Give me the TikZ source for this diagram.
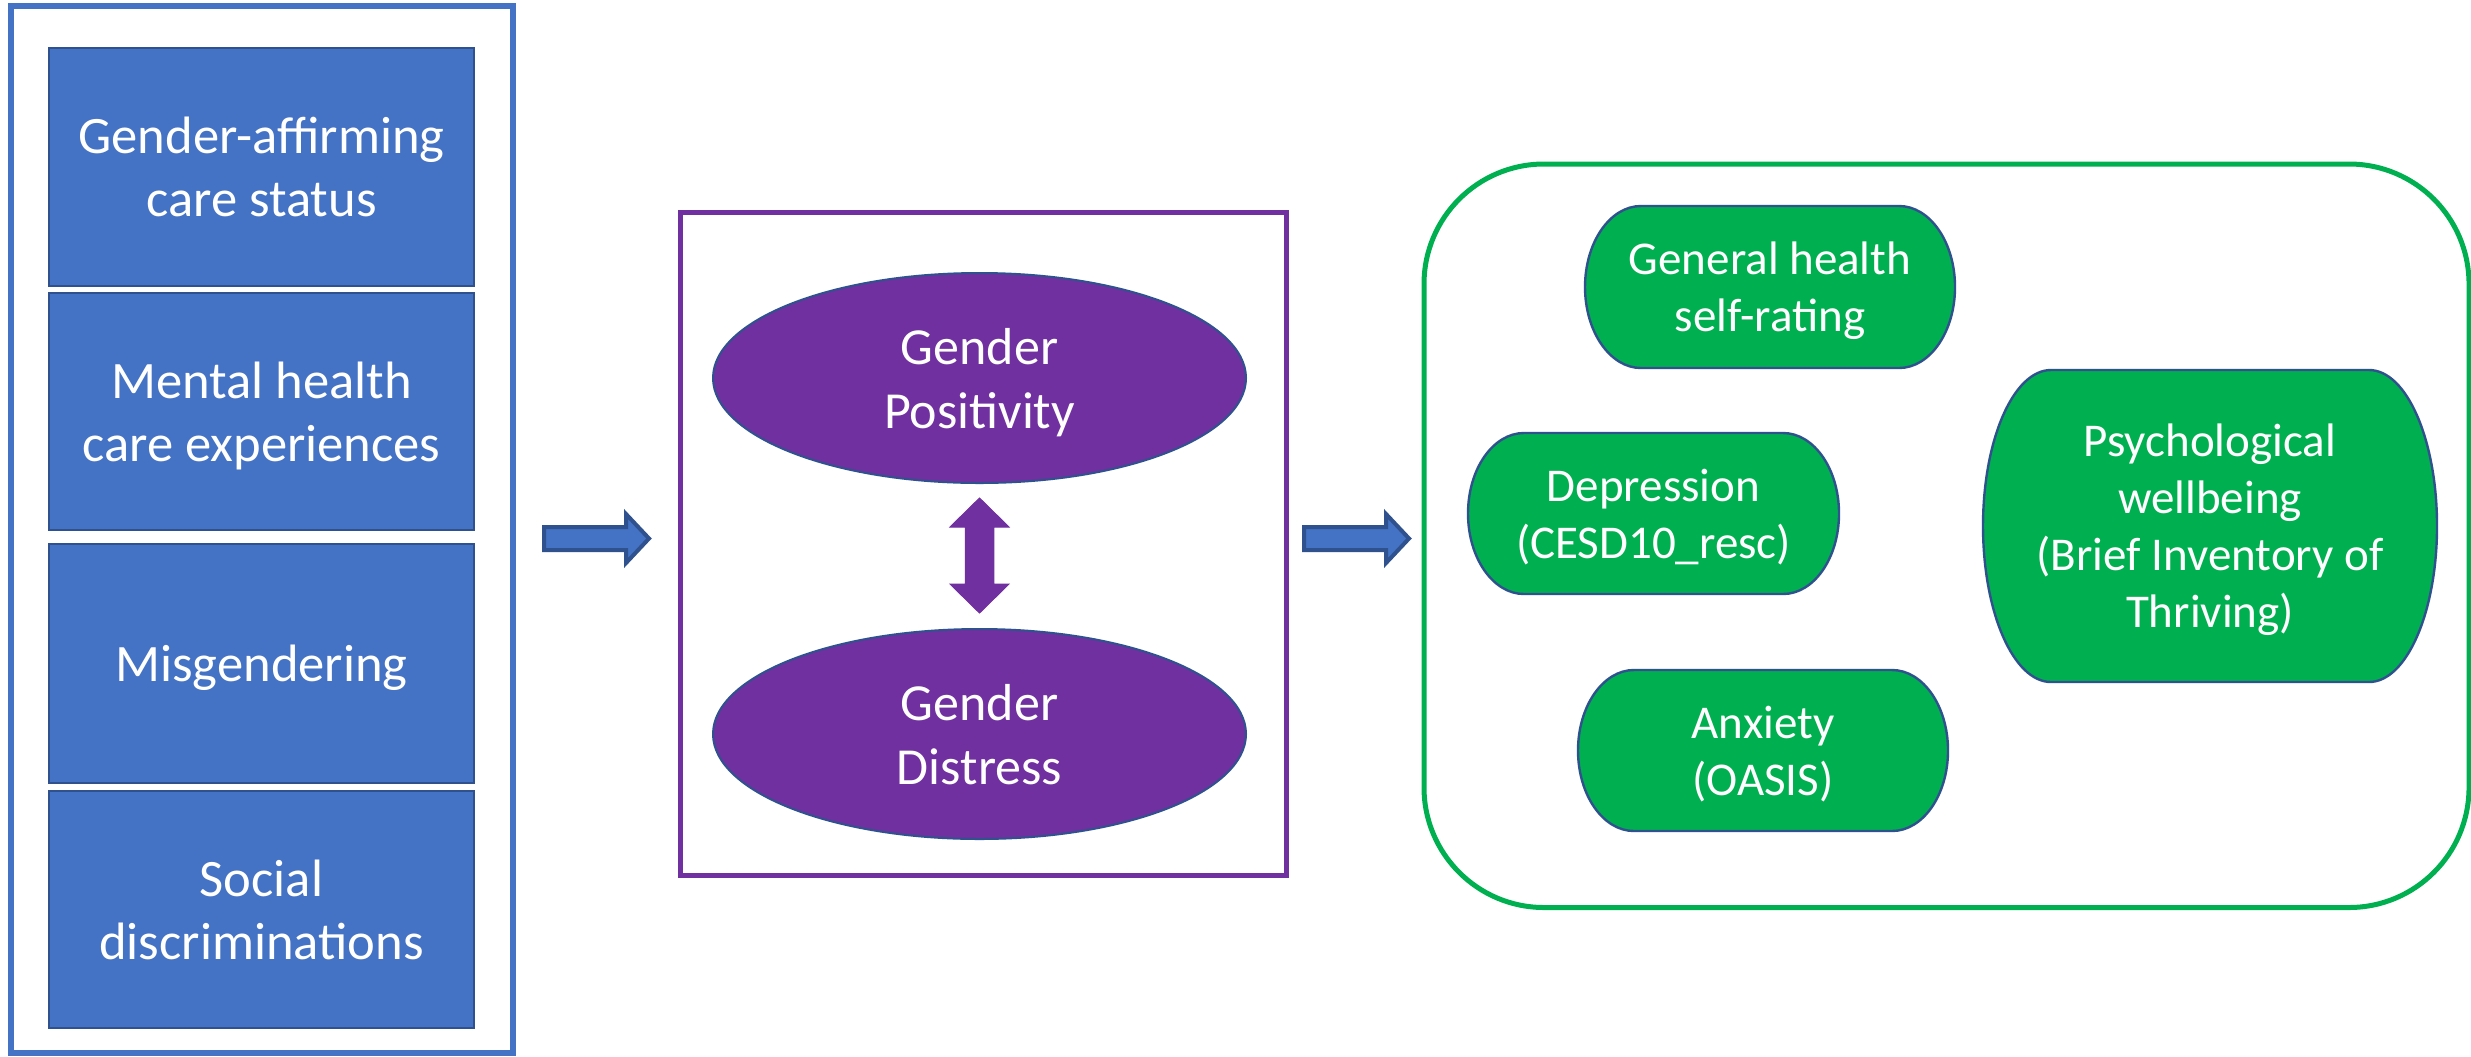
\documentclass[tikz,border=0pt]{standalone}
\usepackage{fontspec}
\setmainfont{Carlito}
\usetikzlibrary{shapes.geometric,calc,backgrounds}
\definecolor{bfill}{HTML}{4472C4}
\definecolor{bdark}{HTML}{2F528F}
\definecolor{pviolet}{HTML}{7030A0}
\definecolor{ggreen}{HTML}{00B050}
\tikzset{
 frameblue/.style={draw=bfill, line width=3pt, minimum width=251pt, minimum height=523.5pt, inner sep=0pt, outer sep=0pt},
 bluebox/.style={draw=bdark, fill=bfill, line width=1.2pt, minimum width=212.5pt, text=white, align=center, font=\fontsize{26.3}{31.5}\selectfont, inner sep=0pt, outer sep=0pt, text depth=0pt},
 framepurple/.style={draw=pviolet, line width=2.5pt, minimum width=303pt, minimum height=331.5pt, inner sep=0pt, outer sep=0pt},
 purpell/.style={ellipse, draw=bdark, fill=pviolet, line width=1pt, minimum width=266.5pt, minimum height=105pt, inner sep=0pt, outer sep=0pt, text=white, align=center, font=\fontsize{26}{32}\selectfont, text depth=0pt},
 framegreen/.style={draw=ggreen, line width=2.5pt, rounded corners=60pt, minimum width=522.5pt, minimum height=371.75pt, inner sep=0pt, outer sep=0pt},
 gterm/.style={inner sep=0pt, outer sep=0pt, text=white, align=center, font=\fontsize{23.5}{28.5}\selectfont, text depth=0pt},
 termshape/.style={fill=ggreen, draw=bdark, line width=1.2pt},
 barrow/.style={fill=bfill, draw=bdark, line width=2pt, line join=miter},
 dblarrow/.style={fill=pviolet, draw=pviolet, line width=0.5pt, line join=miter},
}
\newcommand\termpath[2]{%
  \path[termshape] let \p1=(#1.north), \p2=(#1.south), \n1={(\y1-\y2)/2} in
    ([xshift=#2]#1.north west) -- ([xshift=-#2]#1.north east)
    arc[start angle=90, end angle=-90, x radius=#2, y radius=\n1]
    -- ([xshift=#2]#1.south west)
    arc[start angle=270, end angle=90, x radius=#2, y radius=\n1] -- cycle;}
\begin{document}
\begin{tikzpicture}[x=0.5pt, y=-0.5pt]
\useasboundingbox (0,0) rectangle (2471,1056);
% left column
\node[frameblue] (inputs) at (262,529.5) {};
\node[bluebox, minimum height=119pt] (gac) at (261.5,167) {Gender-affirming\\care status};
\node[bluebox, minimum height=118.5pt] (mhc) at (261.5,411.5) {Mental health\\care experiences};
\node[bluebox, minimum height=119.5pt] (mis) at (261.5,663.5) {Misgendering};
\node[bluebox, minimum height=118.5pt] (soc) at (261.5,909.5) {Social\\discriminations};
% middle
\node[framepurple] (mid) at (983,543.5) {};
\node[purpell] (gp) at (979.5,378) {Gender\\Positivity};
\node[purpell] (gd) at (979.5,734) {Gender\\Distress};
\coordinate (dtop) at ($(gp.south)+(0,15)$);
\coordinate (dbot) at ($(gd.north)+(0,-16)$);
\draw[dblarrow] (dtop) -- ++(29.5,29) -- ++(-15.25,0) -- ($(dbot)+(14.25,-29)$) -- ++(15.25,0) -- (dbot)
  -- ++(-29.5,-29) -- ++(15.25,0) -- ($(dtop)+(-14.25,29)$) -- ++(-15.25,0) -- cycle;
% block arrows
\coordinate (a1) at (544,538.5);
\coordinate (a2) at (1304,538.5);
\foreach \c in {a1,a2}
  \draw[barrow] ($(\c)+(0,-11.5)$) -- ++(82,0) -- ++(0,-13) -- ++(23,24.5) -- ++(-23,24.5) -- ++(0,-13) -- ++(-82,0) -- cycle;
% right
\node[framegreen] (outcomes) at (1946.5,535.75) {};
\node[gterm, minimum width=185pt, minimum height=81pt] (gh) at (1770,287) {General health\\self-rating};
\node[gterm, minimum width=185.5pt, minimum height=80.5pt] (dep) at (1653.5,513.5) {Depression\\(CESD10\_resc)};
\node[gterm, minimum width=185pt, minimum height=80.5pt] (anx) at (1763,750.5) {Anxiety\\(OASIS)};
\node[gterm, minimum width=227pt, minimum height=156pt] (psy) at (2210,526) {Psychological\\wellbeing\\(Brief Inventory of\\Thriving)};
\begin{pgfonlayer}{background}
  \fill[white] (0,0) rectangle (2471,1056);
  \termpath{gh}{28pt}
  \termpath{dep}{28pt}
  \termpath{anx}{28pt}
  \termpath{psy}{34pt}
\end{pgfonlayer}
\end{tikzpicture}
\end{document}
